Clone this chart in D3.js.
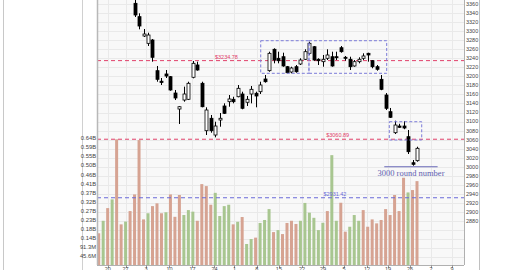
<!DOCTYPE html>
<html><head><meta charset="utf-8">
<script src="https://cdn.jsdelivr.net/npm/d3@7"></script>
<style>html,body{margin:0;padding:0;background:#fff;overflow:hidden}</style>
</head><body>
<svg id="c" width="507" height="270"></svg>
<script>
// ---- data ----
const opens  = [3440,3430,3436,3410,3420,3392,3398,3400,3361.5,3332,3289.2,3273,3280.4,3212.5,3189.2,3205.2,3199.2,3163.1,3127.7,3147.6,3149.2,3197.9,3225.1,3184.6,3079.7,3107.2,3070.2,3103.4,3134.4,3143.9,3149.2,3154.9,3160.9,3142.6,3160.9,3162.5,3166,3194.1,3212.5,3259.8,3239.9,3243.4,3221.3,3209.6,3221.3,3227.3,3237.7,3250.9,3265.5,3237.7,3232.4,3239.9,3243.4,3243.4,3263.3,3242.1,3237.7,3222.9,3232.4,3239.9,3250.9,3234.6,3221.3,3193.4,3158.7,3121.8,3075.3,3090.1,3090.1,3066.5,3008.9,3013.4];
const highs  = [3452,3445,3440,3428,3425,3405,3410,3406,3372,3339.4,3304.7,3296.5,3282.6,3222.9,3196.3,3214,3200.7,3169.8,3134.4,3177.1,3188.1,3233.9,3232.4,3188.1,3131.5,3114.5,3099.6,3118.9,3140.3,3158.7,3154.9,3180.8,3166,3156.5,3178.6,3166,3188.1,3202.9,3254.5,3262,3254.5,3252.3,3222.9,3221.3,3225.1,3239.9,3259.8,3276.6,3267.1,3239.9,3247.2,3259.8,3254.5,3254.5,3267.1,3245,3243.4,3236.1,3242.1,3250.9,3252.3,3236.1,3225.1,3202.9,3163,3130,3101.9,3095,3101.2,3081.3,3014.9,3044.3];
const lows   = [3425,3418,3405,3400,3385,3380,3390,3378,3331.2,3304,3287,3267.1,3232.4,3188.1,3180.8,3196.3,3168.2,3147.6,3094.6,3143.9,3147.6,3195.6,3212.5,3131.5,3070.2,3075.3,3065.1,3088.6,3116.7,3132.8,3140.3,3153.6,3127.1,3134.4,3140.3,3131.5,3160.9,3186,3210.2,3228.8,3228.8,3221.3,3206.7,3206.7,3208,3225.1,3236.1,3247.2,3234.6,3225.1,3221.3,3236.1,3221.3,3236.1,3252.3,3234.6,3214,3221.3,3228.8,3236.1,3232.4,3217.8,3212.5,3169.3,3125.5,3107.8,3072.4,3086,3083,3028.2,3002.3,3011.2];
const closes = [3430,3438,3410,3422,3392,3398,3404,3382,3335.7,3311.3,3293.6,3291.4,3242.1,3193.4,3186.4,3200.7,3169.8,3152.1,3132.8,3160.9,3184.6,3228.8,3214,3132.8,3125.5,3079.7,3090.1,3107.2,3118.2,3149.9,3143.9,3173.5,3129.3,3149.2,3171.3,3156.5,3180.8,3188.1,3250.9,3236.1,3234.6,3222.9,3208,3218.4,3210.2,3236.1,3254.5,3273.1,3236.1,3234.6,3237.7,3247.2,3222.9,3241.2,3254.5,3239.9,3221.3,3232.4,3237.7,3245,3247.2,3221.3,3215.6,3171.3,3129.3,3109.4,3092.3,3087.3,3085.7,3033.3,3005.4,3040.8];
// volume in millions
const volumes = [160,223,287,331,634,205,219,272,356,630,230,261,297,311,261,266,356,243,353,252,277,269,223,408,398,304,364,247,297,304,205,218,242,106,131,138,212,227,282,166,176,156,212,223,207,223,313,264,238,176,213,272,554,223,314,168,193,252,223,277,193,230,210,227,282,252,353,272,440,366,378,423];
const volDir = "sgsgssgssssgsssgsssgggssssggggsgsggsgggsgssssggggggsggssgggssssssssssg".split("");
const xTickLabels = ["20","27","3","10","17","24","1","8","15","22","29","5","12","19","26","2","9"];
const xTickPos = [2.03,5.98,10.55,15.79,20.92,25.83,30.29,35.24,40.2,45.35,50.03,54.72,59.85,64.53,69.44,74.12,78.8];
const priceTicks = [3360,3340,3320,3300,3280,3260,3240,3220,3200,3180,3160,3140,3120,3100,3080,3060,3040,3020,3000,2980,2960,2940,2920,2900,2880];
const gridPrices = d3.range(2760, 3401, 20);
const volTickValues = [45.6,91.3,136.9,182.6,228.2,273.9,319.5,365.2,410.8,456.5,502.1,547.8,593.4,639.0];
const volTickLabels = ["45.6M","91.3M","0.14B","0.18B","0.23B","0.27B","0.32B","0.37B","0.41B","0.46B","0.50B","0.55B","0.59B","0.64B"];
const levelValues = [3234.78, 3060.89, 2931.42];
const levelLabels = ["$3234.78","$3060.89","$2931.42"];
const levelColors = ["#e0406a","#e0406a","#6a6ad8"];
const levelLabelPos = [28.5, 53.3, 52.7];
const boxes = [[36.14,46.9,3278.8,3206.7],[46.9,64.24,3278.8,3206.7],[64.82,72.05,3099.6,3059.2]];
const roundLevel = 3000, roundRange = [63.7, 75.6], roundText = "3000 round number";

// ---- scales ----
const n = closes.length;
const x = d3.scaleLinear().domain([0, n-1]).range([98.7, 417]);
const y = d3.scaleLinear().domain([2880, 3360]).range([221, 4]);
const yv = d3.scaleLinear().domain([0, 639]).range([265, 138.3]);
const L = 97, R = 464, B = 265, T = -5;

const svg = d3.select("#c");
// frame lines
svg.append("line").attr("x1",3.5).attr("x2",3.5).attr("y1",0).attr("y2",270).attr("stroke","#c8c8c8");
svg.append("line").attr("x1",82.5).attr("x2",82.5).attr("y1",0).attr("y2",270).attr("stroke","#d0d0d0");
svg.append("line").attr("x1",479.5).attr("x2",479.5).attr("y1",0).attr("y2",270).attr("stroke","#c0c0c0");

svg.append("defs").append("clipPath").attr("id","clip").append("rect").attr("x",L).attr("y",T).attr("width",R-L).attr("height",B-T);
svg.append("rect").attr("x",L).attr("y",T).attr("width",R-L).attr("height",B-T).attr("fill","#f8f8f8");

const g = svg.append("g").attr("clip-path","url(#clip)");
// grid
g.selectAll(".hg").data(gridPrices).join("line").attr("x1",L).attr("x2",R)
  .attr("y1",d=>Math.round(y(d))+0.5).attr("y2",d=>Math.round(y(d))+0.5).attr("stroke","#e9e9e9");
g.selectAll(".vg").data(xTickPos).join("line").attr("y1",T).attr("y2",B)
  .attr("x1",d=>Math.round(x(d))+0.5).attr("x2",d=>Math.round(x(d))+0.5).attr("stroke","#e9e9e9");

// volume bars
g.selectAll(".vb").data(volumes).join("rect")
  .attr("x",(d,i)=>x(i)-1.5).attr("width",3)
  .attr("y",d=>yv(d)).attr("height",d=>B-yv(d))
  .attr("fill",(d,i)=>volDir[i]==="g"?"#a8c690":"#d6a392");

// level lines
levelValues.forEach((v,k)=>{
  g.append("line").attr("x1",L).attr("x2",R).attr("y1",y(v)).attr("y2",y(v))
    .attr("stroke",levelColors[k]).attr("stroke-dasharray","4,3").attr("stroke-width",1);
  g.append("text").attr("x",x(levelLabelPos[k])).attr("y",y(v)-2).attr("text-anchor","middle")
    .attr("font-family","Liberation Sans, Arial, sans-serif").attr("font-size",5.5)
    .attr("fill",levelColors[k]).text(levelLabels[k]);
});

// candles
const idx = d3.range(n);
g.selectAll(".wick").data(idx).join("line")
  .attr("x1",i=>Math.round(x(i))+0.5).attr("x2",i=>Math.round(x(i))+0.5)
  .attr("y1",i=>y(highs[i])).attr("y2",i=>y(lows[i])).attr("stroke","#000").attr("stroke-width",1);
g.selectAll(".body").data(idx).join("rect")
  .attr("x",i=>Math.round(x(i))-1).attr("width",3)
  .attr("y",i=>y(Math.max(opens[i],closes[i])))
  .attr("height",i=>Math.max(1,Math.abs(y(opens[i])-y(closes[i]))))
  .attr("fill",i=>closes[i]>=opens[i]?"#fff":"#000")
  .attr("stroke","#000").attr("stroke-width",0.8);

// boxes
g.selectAll(".box").data(boxes).join("rect")
  .attr("x",d=>x(d[0])).attr("width",d=>x(d[1])-x(d[0]))
  .attr("y",d=>y(d[2])).attr("height",d=>y(d[3])-y(d[2]))
  .attr("fill","none").attr("stroke","#7b7bd8").attr("stroke-dasharray","3,2").attr("stroke-width",1);

// round number annotation
g.append("line").attr("x1",x(roundRange[0])).attr("x2",x(roundRange[1]))
  .attr("y1",y(roundLevel)).attr("y2",y(roundLevel)).attr("stroke","#6a6ab8").attr("stroke-width",1);
g.append("text").attr("x",(x(roundRange[0])+x(roundRange[1]))/2).attr("y",y(roundLevel)+9)
  .attr("text-anchor","middle").attr("font-family","Liberation Serif, Times New Roman, serif")
  .attr("font-size",8.5).attr("fill","#6060b0").text(roundText);

// borders
svg.append("line").attr("x1",L+0.5).attr("x2",L+0.5).attr("y1",T).attr("y2",B).attr("stroke","#b8b8b8").attr("stroke-width",1.5);
svg.append("line").attr("x1",R+0.5).attr("x2",R+0.5).attr("y1",T).attr("y2",B).attr("stroke","#b0b0b0");
svg.append("line").attr("x1",L).attr("x2",R).attr("y1",B+0.5).attr("y2",B+0.5).attr("stroke","#b0b0b0");

// axes labels
const font = "Liberation Sans, Arial, sans-serif";
svg.selectAll(".pl").data(priceTicks).join("text").attr("x",R+2).attr("y",d=>y(d)).attr("dy","0.35em")
  .attr("font-family",font).attr("font-size",5.5).attr("fill","#444").text(d=>d);
svg.selectAll(".vl").data(volTickValues).join("text").attr("x",L-1).attr("y",d=>yv(d)).attr("dy","0.35em")
  .attr("text-anchor","end").attr("font-family",font).attr("font-size",5.8).attr("fill","#444").text((d,i)=>volTickLabels[i]);
svg.selectAll(".xt").data(xTickPos).join("line").attr("x1",d=>Math.round(x(d))+0.5).attr("x2",d=>Math.round(x(d))+0.5)
  .attr("y1",B).attr("y2",B+3).attr("stroke","#999");
svg.selectAll(".xl").data(xTickPos).join("text").attr("x",d=>x(d)).attr("y",B+6)
  .attr("text-anchor","middle").attr("font-family",font).attr("font-size",5.5).attr("fill","#444").text((d,i)=>xTickLabels[i]);
</script>
</body></html>
